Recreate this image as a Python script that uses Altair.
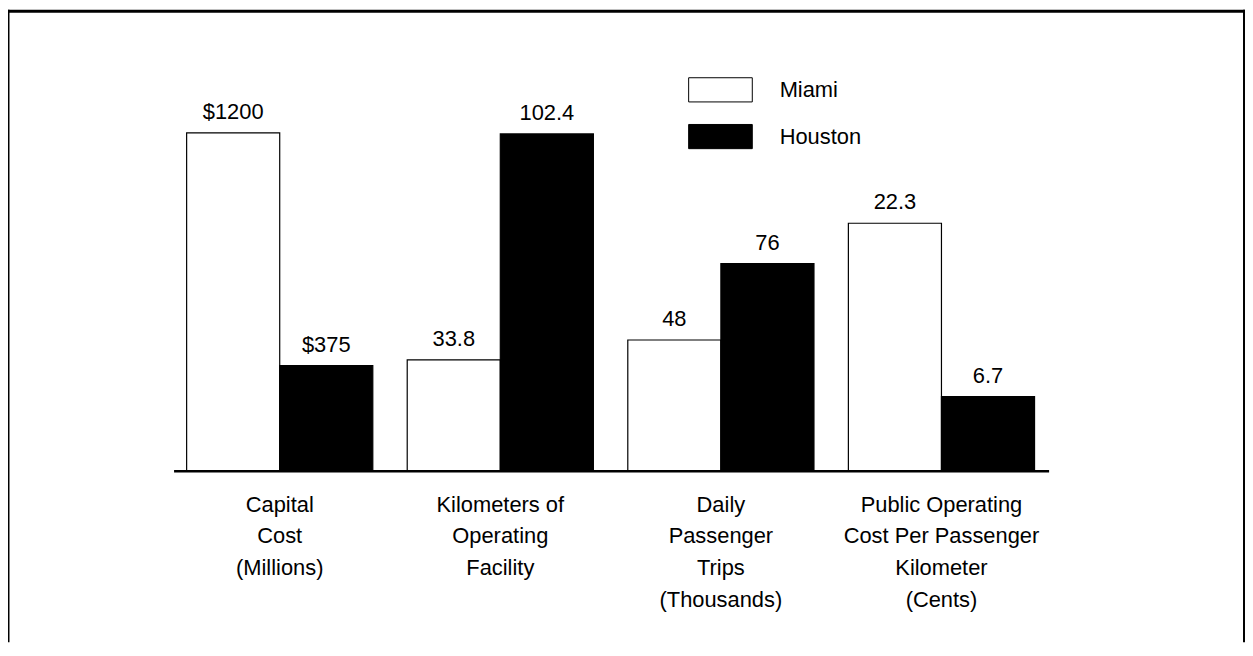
import altair as alt
import pandas as pd

# ---- data ----
cat_keys = ["capital", "km", "trips", "cost"]
cat_labels = [
    "Capital\nCost\n(Millions)",
    "Kilometers of\nOperating\nFacility",
    "Daily\nPassenger\nTrips\n(Thousands)",
    "Public Operating\nCost Per Passenger\nKilometer\n(Cents)",
]
series = ["Miami", "Houston"]
miami = [1200, 33.8, 48, 22.3]
houston = [375, 102.4, 76, 6.7]
prefix = ["$", "", "", ""]
# each group has its own (unlabelled) scale: value at the full plot height
axis_max = [1270, 108.7, 131, 32.2]

rows = []
for i, k in enumerate(cat_keys):
    for s, vals in (("Miami", miami), ("Houston", houston)):
        v = vals[i]
        rows.append({"cat": k, "series": s, "value": v,
                     "frac": v / axis_max[i], "text": f"{prefix[i]}{v:g}"})
df = pd.DataFrame(rows)
cats = pd.DataFrame({"cat": cat_keys, "label": cat_labels})

W, H = 1244, 636
FONT = "Liberation Sans"

xscale = alt.Scale(domain=cat_keys, range=[167, 1045], paddingInner=0.156, paddingOuter=0.057)
yscale = alt.Scale(domain=[0, 1], range=[464, 104])

X = alt.X("cat:N", scale=xscale, axis=None)
XO = alt.XOffset("series:N", scale=alt.Scale(domain=series, paddingInner=0, paddingOuter=0))
Y = alt.Y("frac:Q", scale=yscale, axis=None)

base = alt.Chart(df)

bars = base.mark_bar(stroke="black", strokeWidth=1.2).encode(
    x=X, xOffset=XO, y=Y,
    color=alt.Color(
        "series:N",
        scale=alt.Scale(domain=series, range=["white", "black"]),
        legend=alt.Legend(
            title=None, orient="none", legendX=684, legendY=48, padding=0,
            symbolType="M-1,-0.38H1V0.38H-1Z", symbolSize=4096,
            symbolStrokeColor="black", symbolStrokeWidth=1, symbolOpacity=1,
            labelFont=FONT, labelFontSize=22, labelColor="black",
            labelOffset=27, labelLimit=0, rowPadding=-20,
        ),
    ),
)

values = base.mark_text(baseline="alphabetic", dy=-14, font=FONT, fontSize=22, color="black").encode(
    x=X, xOffset=XO, y=Y, text="text:N"
)

baseline = alt.Chart(pd.DataFrame({"v": [0]})).mark_rule(color="black", strokeWidth=2.5).encode(
    y=alt.Y("v:Q", scale=yscale, axis=None), x=alt.value(167), x2=alt.value(1047)
)

cat_text = alt.Chart(cats).mark_text(
    baseline="alphabetic", font=FONT, fontSize=22, lineBreak="\n", lineHeight=31.7, color="black"
).encode(x=X, y=alt.value(505), text="label:N")

one = pd.DataFrame({"a": [0]})
frame_top = alt.Chart(one).mark_rule(color="black", strokeWidth=3).encode(
    x=alt.value(0), x2=alt.value(W), y=alt.value(1.5))
frame_left = alt.Chart(one).mark_rule(color="black", strokeWidth=3).encode(
    x=alt.value(0), y=alt.value(0), y2=alt.value(H))
frame_right = alt.Chart(one).mark_rule(color="black", strokeWidth=2).encode(
    x=alt.value(W - 1), y=alt.value(0), y2=alt.value(H))

chart = alt.layer(bars, values, baseline, cat_text, frame_top, frame_left, frame_right).properties(
    width=W, height=H, padding=0, autosize="none", background="white"
).configure_view(stroke=None)

chart.save("out.html", embed_options={"renderer": "svg", "actions": False})
